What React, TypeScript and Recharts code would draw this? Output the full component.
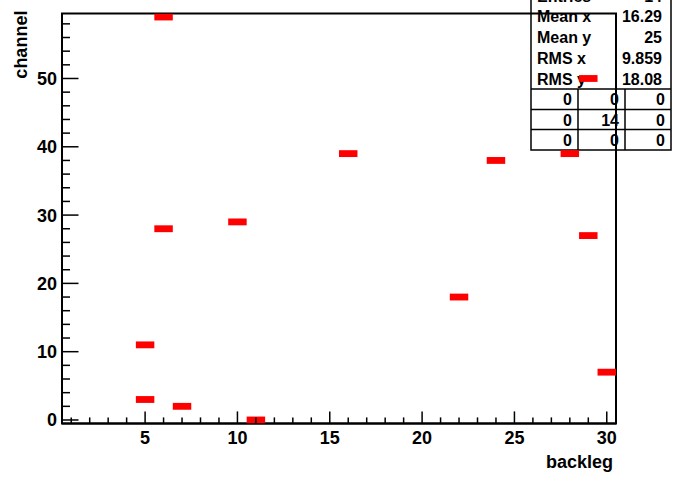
import { ScatterChart, Scatter, XAxis, YAxis, ReferenceArea } from 'recharts';

// filled bins (backleg, channel), one entry each
const backleg = [6, 29, 16, 24, 28, 29, 6, 10, 22, 5, 30, 5, 7, 11];
const channel = [59, 50, 39, 38, 39, 27, 28, 29, 18, 11, 7, 3, 2, 0];

const xTicks = [1, 2, 3, 4, 5, 6, 7, 8, 9, 10, 11, 12, 13, 14, 15, 16, 17, 18, 19, 20, 21, 22, 23, 24, 25, 26, 27, 28, 29, 30];
const yTicks = [0, 2, 4, 6, 8, 10, 12, 14, 16, 18, 20, 22, 24, 26, 28, 30, 32, 34, 36, 38, 40, 42, 44, 46, 48, 50, 52, 54, 56, 58];

const statNames = ['Entries', 'Mean x', 'Mean y', 'RMS x', 'RMS y'];
const statValues = ['14', '16.29', '25', '9.859', '18.08'];
const overflow = [
  [0, 0, 0],
  [0, 14, 0],
  [0, 0, 0],
];

const data = backleg.map((b, i) => ({ backleg: b, channel: channel[i] }));

const W = 676;
const H = 482;
const PLOT_L = 62;
const PLOT_R = 616;
const PLOT_T = 13.6;
const PLOT_B = 423.4;
const X_DOMAIN: [number, number] = [0.5, 30.5];
const Y_DOMAIN: [number, number] = [-0.5, 59.5];
const CELL_W = (PLOT_R - PLOT_L) / (X_DOMAIN[1] - X_DOMAIN[0]);
const CELL_H = (PLOT_B - PLOT_T) / (Y_DOMAIN[1] - Y_DOMAIN[0]);

const font = '"Liberation Sans", Arial, Helvetica, sans-serif';

const XTick = (props: any) => {
  const { x, y, payload } = props;
  const major = payload.value % 5 === 0;
  return (
    <g>
      <line x1={x} x2={x} y1={y} y2={y - (major ? 12 : 6)} stroke="#000" strokeWidth={1.5} />
      {major && (
        <text x={x} y={y + 21} textAnchor="middle" fontFamily={font} fontWeight="bold" fontSize={18} fill="#000">
          {payload.value}
        </text>
      )}
    </g>
  );
};

const YTick = (props: any) => {
  const { x, y, payload } = props;
  const major = payload.value % 10 === 0;
  return (
    <g>
      <line x1={x} x2={x + (major ? 16.5 : 8)} y1={y} y2={y} stroke="#000" strokeWidth={1.5} />
      {major && (
        <text x={x - 5} y={y + 6.5} textAnchor="end" fontFamily={font} fontWeight="bold" fontSize={18} fill="#000">
          {payload.value}
        </text>
      )}
    </g>
  );
};

const Cell2D = (props: any) => (
  <rect x={props.cx - CELL_W / 2} y={props.cy - CELL_H / 2} width={CELL_W} height={CELL_H} fill="#ff0000" />
);

// ROOT style stats box, drawn underneath the frame
function StatsBox() {
  const left = 531;
  const right = 671;
  const rowY = [-4.5, 16, 37, 57.5, 79];
  const gridRows = [89, 109.5, 129.5, 150];
  const cols = [531, 578, 625, 671];
  return (
    <svg width={W} height={H} style={{ position: 'absolute', left: 0, top: 0 }}>
      <rect x={left} y={-14} width={right - left} height={150 + 14} fill="#fff" stroke="#000" strokeWidth={1.5} />
      {statNames.map((n, i) => (
        <g key={n} fontFamily={font} fontWeight="bold" fontSize={16} fill="#000">
          <text x={left + 6} y={rowY[i] + 6}>{n}</text>
          <text x={right - 9} y={rowY[i] + 6} textAnchor="end">{statValues[i]}</text>
        </g>
      ))}
      {gridRows.slice(0, 3).map((gy) => (
        <line key={gy} x1={left} x2={right} y1={gy} y2={gy} stroke="#000" strokeWidth={1.5} />
      ))}
      {cols.slice(1, 3).map((cx) => (
        <line key={cx} x1={cx} x2={cx} y1={gridRows[0]} y2={150} stroke="#000" strokeWidth={1.5} />
      ))}
      {overflow.map((row, r) =>
        row.map((v, c) => (
          <text
            key={r + '-' + c}
            x={cols[c + 1] - 6}
            y={(gridRows[r] + gridRows[r + 1]) / 2 + 6}
            textAnchor="end"
            fontFamily={font}
            fontWeight="bold"
            fontSize={16}
            fill="#000"
          >
            {v}
          </text>
        ))
      )}
    </svg>
  );
}

export default function App() {
  return (
    <div style={{ position: 'absolute', left: 0, top: 0, width: W, height: H, background: '#fff' }}>
      <StatsBox />
      <div style={{ position: 'absolute', left: 0, top: 0 }}>
        <ScatterChart width={W} height={H} margin={{ top: PLOT_T, right: W - PLOT_R, bottom: 0, left: 0 }}>
          <XAxis
            type="number"
            dataKey="backleg"
            domain={X_DOMAIN}
            ticks={xTicks}
            interval={0}
            height={H - PLOT_B}
            tickSize={0}
            tickMargin={0}
            tick={<XTick />}
            tickLine={false}
            axisLine={{ stroke: '#000', strokeWidth: 2 }}
            allowDataOverflow
            label={{
              content: (p: any) => (
                <text
                  x={p.viewBox.x + p.viewBox.width - 3}
                  y={p.viewBox.y + 45}
                  textAnchor="end"
                  fontFamily={font}
                  fontWeight="bold"
                  fontSize={18}
                  fill="#000"
                >
                  backleg
                </text>
              ),
            }}
          />
          <YAxis
            type="number"
            dataKey="channel"
            domain={Y_DOMAIN}
            ticks={yTicks}
            interval={0}
            width={PLOT_L}
            tickSize={0}
            tickMargin={0}
            tick={<YTick />}
            tickLine={false}
            axisLine={{ stroke: '#000', strokeWidth: 2 }}
            allowDataOverflow
            label={{
              content: (p: any) => (
                <text
                  x={27}
                  y={p.viewBox.y - 3}
                  transform={`rotate(-90, 27, ${p.viewBox.y - 3})`}
                  textAnchor="end"
                  fontFamily={font}
                  fontWeight="bold"
                  fontSize={18}
                  fill="#000"
                >
                  channel
                </text>
              ),
            }}
          />
          <Scatter data={data} shape={<Cell2D />} isAnimationActive={false} />
          <ReferenceArea
            x1={X_DOMAIN[0]}
            x2={X_DOMAIN[1]}
            y1={Y_DOMAIN[0]}
            y2={Y_DOMAIN[1]}
            fill="none"
            fillOpacity={0}
            stroke="#000"
            strokeWidth={2}
          />
        </ScatterChart>
      </div>
    </div>
  );
}
